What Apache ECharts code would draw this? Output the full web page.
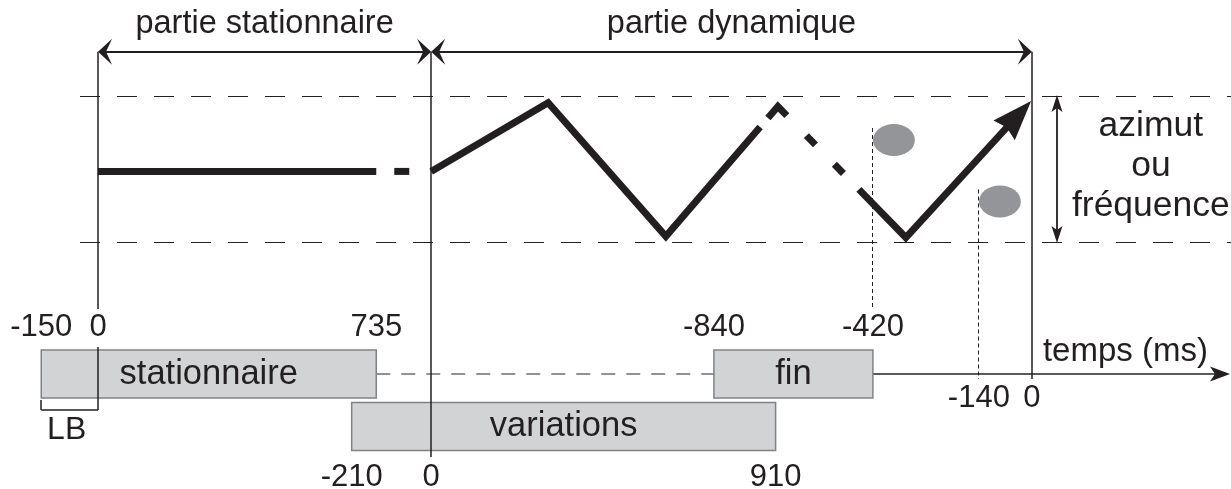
<!DOCTYPE html>
<html>
<head>
<meta charset="utf-8">
<script src="https://cdn.jsdelivr.net/npm/echarts@6/dist/echarts.min.js"></script>
<style>
html,body{margin:0;padding:0;background:#ffffff;}
#c{width:1231px;height:489px;}
</style>
</head>
<body>
<div id="c"></div>
<script>
// ---------------- DATA ----------------
// global time (ms) of the two parts of the stimulus
const spanLabels = ['partie stationnaire', 'partie dynamique'];
const spanStart = [0, 880];
const spanEnd = [880, 2467];

// analysis windows (local ms, relative to each window's origin)
const windowLabels = ['stationnaire', 'variations', 'fin'];
const windowOrigin = [0, 880, 2467];      // global ms of local 0
const windowStart = [-150, -210, -840];
const windowEnd = [735, 910, -420];
const windowRow = [0, 1, 0];
const windowTicks = [[-150, 0, 735], [-210, 0, 910], [-840, -420]];

// time axis ticks (relative to end of dynamic part)
const axisTicks = [-140, 0];
const axisLabel = 'temps (ms)';

// trajectory (global ms, azimuth in [0,1] between the two dashed bounds)
const trajTime = [0, 735, 880, 1189, 1500, 1749, 1796, 2010, 2134, 2465];
const trajAz = [0.49, 0.49, 0.49, 0.96, 0.045, 0.794, 0.935, 0.367, 0.037, 0.973];
const trajDashed = [0, 1, 0, 0, 0, 1, 1, 0, 0];   // per segment

// grey response markers (ms relative to end of dynamic part)
const markerTime = [-420, -140];
const markerAz = [0.705, 0.284];

const azRange = [0, 1];
const azLabel = 'azimut\nou\nfréquence';
const lbLabel = 'LB';

// ---------------- STYLE / LAYOUT ----------------
const X_MIN = -259, X_MAX = 2993;
const Y_MIN = -1.685, Y_MAX = 1.664;
const INK = '#231f20';
const FONT = '"Liberation Sans", Arial, Helvetica, sans-serif';
const L = {
  spanY: 51.7, spanLabelY: 23.7,
  row: [374, 426.5], barH: 48,
  tickAbove: -47, tickBelow: 50.5,
  axisY: 374, axisTickY: 398,
  guideSegs: [[[51.7, 309], [347, 410]], [[51.7, 457]], [[51.7, 379]]],
  dropBottom: [308, 379],
  lbTop: 400, lbBottom: 410, lbLabelY: 430.6
};
// dash patterns (dash, gap, ...) and offsets so each dashed run starts in a gap
const TRAJ_DASHES = [
  { dash: [15, 40], offset: 37 },
  { dash: [28, 28, 13, 27, 13, 38], offset: 135 }
];

function head(tip, from, len, hw, notch, color) {
  const dx = tip[0] - from[0], dy = tip[1] - from[1];
  const d = Math.hypot(dx, dy) || 1;
  const ux = dx / d, uy = dy / d, nx = -uy, ny = ux;
  return {
    type: 'polygon',
    shape: { points: [
      [tip[0], tip[1]],
      [tip[0] - ux * len + nx * hw, tip[1] - uy * len + ny * hw],
      [tip[0] - ux * notch, tip[1] - uy * notch],
      [tip[0] - ux * len - nx * hw, tip[1] - uy * len - ny * hw]
    ]},
    style: { fill: color || INK, stroke: 'none' }
  };
}
function txt(text, x, y, size, align) {
  return { type: 'text', style: { text: text, x: x, y: y, fill: INK, fontSize: size,
    fontFamily: FONT, align: align || 'center', verticalAlign: 'middle', lineHeight: 40 } };
}
// snap thin lines to the pixel grid so they stay crisp
function snap(v, w) {
  return (Math.round(w) % 2 === 1) ? Math.floor(v) + 0.5 : Math.round(v);
}
function line(x1, y1, x2, y2, stroke, w, dash) {
  if (x1 === x2) { x1 = x2 = snap(x1, w); }
  if (y1 === y2) { y1 = y2 = snap(y1, w); }
  return { type: 'line', shape: { x1: x1, y1: y1, x2: x2, y2: y2 },
    style: { stroke: stroke, lineWidth: w, fill: 'none', lineDash: dash || null } };
}
const px = (api, t) => api.coord([t, 0])[0];
const py = (api, v) => api.coord([0, v])[1];

const chart = echarts.init(document.getElementById('c'));

const series = [];

// dashed azimuth bounds + double arrow + label
series.push({
  type: 'custom', z: 1, silent: true,
  data: azRange.map(v => [v]),
  renderItem: function (params, api) {
    const y = py(api, api.value(0));
    const children = [line(px(api, spanStart[0]) - 18, y, 1231, y, INK, 1, [20, 17])];
    if (params.dataIndex === 0) {
      const xe = px(api, spanEnd[1]);
      const xa = snap(xe + 25, 2);
      const yTop = py(api, azRange[1]) - 2, yBot = py(api, azRange[0]);
      children.push(line(xa, yTop + 10, xa, yBot - 10, INK, 1.8));
      children.push(head([xa, yTop], [xa, yBot], 17, 5.5, 13));
      children.push(head([xa, yBot], [xa, yTop], 17, 5.5, 13));
      children.push(txt(azLabel, xe + 119, (yTop + yBot) / 2 - 3, 35.5));
    }
    return { type: 'group', children: children };
  }
});

// connector dashed line + time axis
series.push({
  type: 'custom', z: 2, silent: true,
  data: [[0]],
  renderItem: function (params, api) {
    const y = L.axisY;
    const a = px(api, windowOrigin[0] + windowEnd[0]);
    const b = px(api, windowOrigin[2] + windowStart[2]);
    const c = px(api, windowOrigin[2] + windowEnd[2]);
    const children = [
      line(a, y, b, y, '#6d6e71', 1.5, [14, 11]),
      line(c, y, 1215, y, '#58595b', 2),
      head([1230, y], [c, y], 20, 7.5, 15),
      txt(axisLabel, px(api, spanEnd[1]) + 11, y - 22.5, 33, 'left')
    ];
    axisTicks.forEach(t => children.push(txt(String(t), px(api, spanEnd[1] + t), L.axisTickY, 31)));
    return { type: 'group', children: children };
  }
});

// analysis windows (bars)
series.push({
  type: 'custom', z: 2, silent: true,
  data: windowLabels.map((n, i) => [windowOrigin[i] + windowStart[i], windowOrigin[i] + windowEnd[i]]),
  renderItem: function (params, api) {
    const i = params.dataIndex;
    const x1 = px(api, api.value(0)), x2 = px(api, api.value(1));
    const yc = L.row[windowRow[i]];
    const children = [
      { type: 'rect', shape: { x: x1, y: yc - L.barH / 2, width: x2 - x1, height: L.barH },
        style: { fill: '#d1d3d4', stroke: '#808285', lineWidth: 1.5 } },
      txt(windowLabels[i], (x1 + x2) / 2, yc, 34.5)
    ];
    const ty = windowRow[i] === 0 ? yc + L.tickAbove : yc + L.tickBelow;
    windowTicks[i].forEach(v => children.push(txt(String(v), px(api, windowOrigin[i] + v), ty, 31)));
    return { type: 'group', children: children };
  }
});

// LB bracket
series.push({
  type: 'custom', z: 3, silent: true,
  data: [[windowOrigin[0] + windowStart[0], windowOrigin[0]]],
  renderItem: function (params, api) {
    const a = px(api, api.value(0)), b = px(api, api.value(1));
    return { type: 'group', children: [
      line(a, L.lbTop, a, L.lbBottom, INK, 1.5),
      line(a, L.lbBottom, b, L.lbBottom, INK, 1.5),
      txt(lbLabel, (a + b) / 2 - 3, L.lbLabelY, 32)
    ]};
  }
});

// vertical guide lines at part boundaries
series.push({
  type: 'custom', z: 3, silent: true,
  data: [[spanStart[0]], [spanStart[1]], [spanEnd[1]]],
  renderItem: function (params, api) {
    const x = px(api, api.value(0));
    return { type: 'group', children: L.guideSegs[params.dataIndex].map(s => line(x, s[0], x, s[1], INK, 1.5)) };
  }
});

// span arrows with labels
series.push({
  type: 'custom', z: 4, silent: true,
  data: spanStart.map((s, i) => [s, spanEnd[i]]),
  renderItem: function (params, api) {
    const a = px(api, api.value(0)), b = px(api, api.value(1));
    const y = L.spanY;
    return { type: 'group', children: [
      line(a + 6, y, b - 6, y, INK, 2),
      head([a, y], [b, y], 14, 13, 8),
      head([b, y], [a, y], 14, 13, 8),
      txt(spanLabels[params.dataIndex], (a + b) / 2, L.spanLabelY, 32.5)
    ]};
  }
});

// dotted drop lines from markers
series.push({
  type: 'custom', z: 3, silent: true,
  data: markerTime.map((t, i) => [spanEnd[1] + t, markerAz[i]]),
  renderItem: function (params, api) {
    const p = api.coord([api.value(0), api.value(1)]);
    return line(p[0], p[1] - 12, p[0], L.dropBottom[params.dataIndex], INK, 1, [4, 3]);
  }
});

// grey markers
series.push({
  type: 'scatter', z: 3, silent: true,
  data: markerTime.map((t, i) => [spanEnd[1] + t, markerAz[i]]),
  symbol: 'circle', symbolSize: [42, 32], symbolOffset: [21, 0],
  itemStyle: { color: '#939598', opacity: 1 }
});

// trajectory
series.push({
  type: 'custom', z: 5, silent: true,
  data: trajTime.map((t, i) => [t, trajAz[i]]),
  renderItem: function (params, api) {
    if (params.dataIndex !== 0) return null;
    const pts = trajTime.map((t, i) => api.coord([t, trajAz[i]]));
    const runs = [];
    let cur = { dashed: trajDashed[0], idx: [0] };
    for (let s = 0; s < trajDashed.length; s++) {
      if (trajDashed[s] !== cur.dashed) { runs.push(cur); cur = { dashed: trajDashed[s], idx: [s] }; }
      cur.idx.push(s + 1);
    }
    runs.push(cur);
    const children = [];
    let dk = 0;
    runs.forEach((r, ri) => {
      const p = r.idx.map(i => [pts[i][0], pts[i][1]]);
      if (ri === runs.length - 1) {
        const n = p.length;
        const dx = p[n - 1][0] - p[n - 2][0], dy = p[n - 1][1] - p[n - 2][1];
        const d = Math.hypot(dx, dy);
        p[n - 1] = [p[n - 1][0] - dx / d * 30, p[n - 1][1] - dy / d * 30];
      }
      const style = { stroke: INK, lineWidth: 7, fill: 'none', lineCap: 'butt', lineJoin: 'miter', miterLimit: 10 };
      if (r.dashed) {
        const ds = TRAJ_DASHES[dk++];
        style.lineDash = ds.dash;
        style.lineDashOffset = ds.offset;
      }
      children.push({ type: 'polyline', shape: { points: p }, style: style });
    });
    const n = pts.length;
    children.push(head(pts[n - 1], pts[n - 2], 40, 14.5, 36));
    return { type: 'group', children: children };
  }
});

chart.setOption({
  animation: false,
  backgroundColor: '#ffffff',
  grid: { left: 0, right: 0, top: 0, bottom: 0, containLabel: false },
  xAxis: { type: 'value', min: X_MIN, max: X_MAX, show: false },
  yAxis: { type: 'value', min: Y_MIN, max: Y_MAX, show: false },
  series: series
});
</script>
</body>
</html>
